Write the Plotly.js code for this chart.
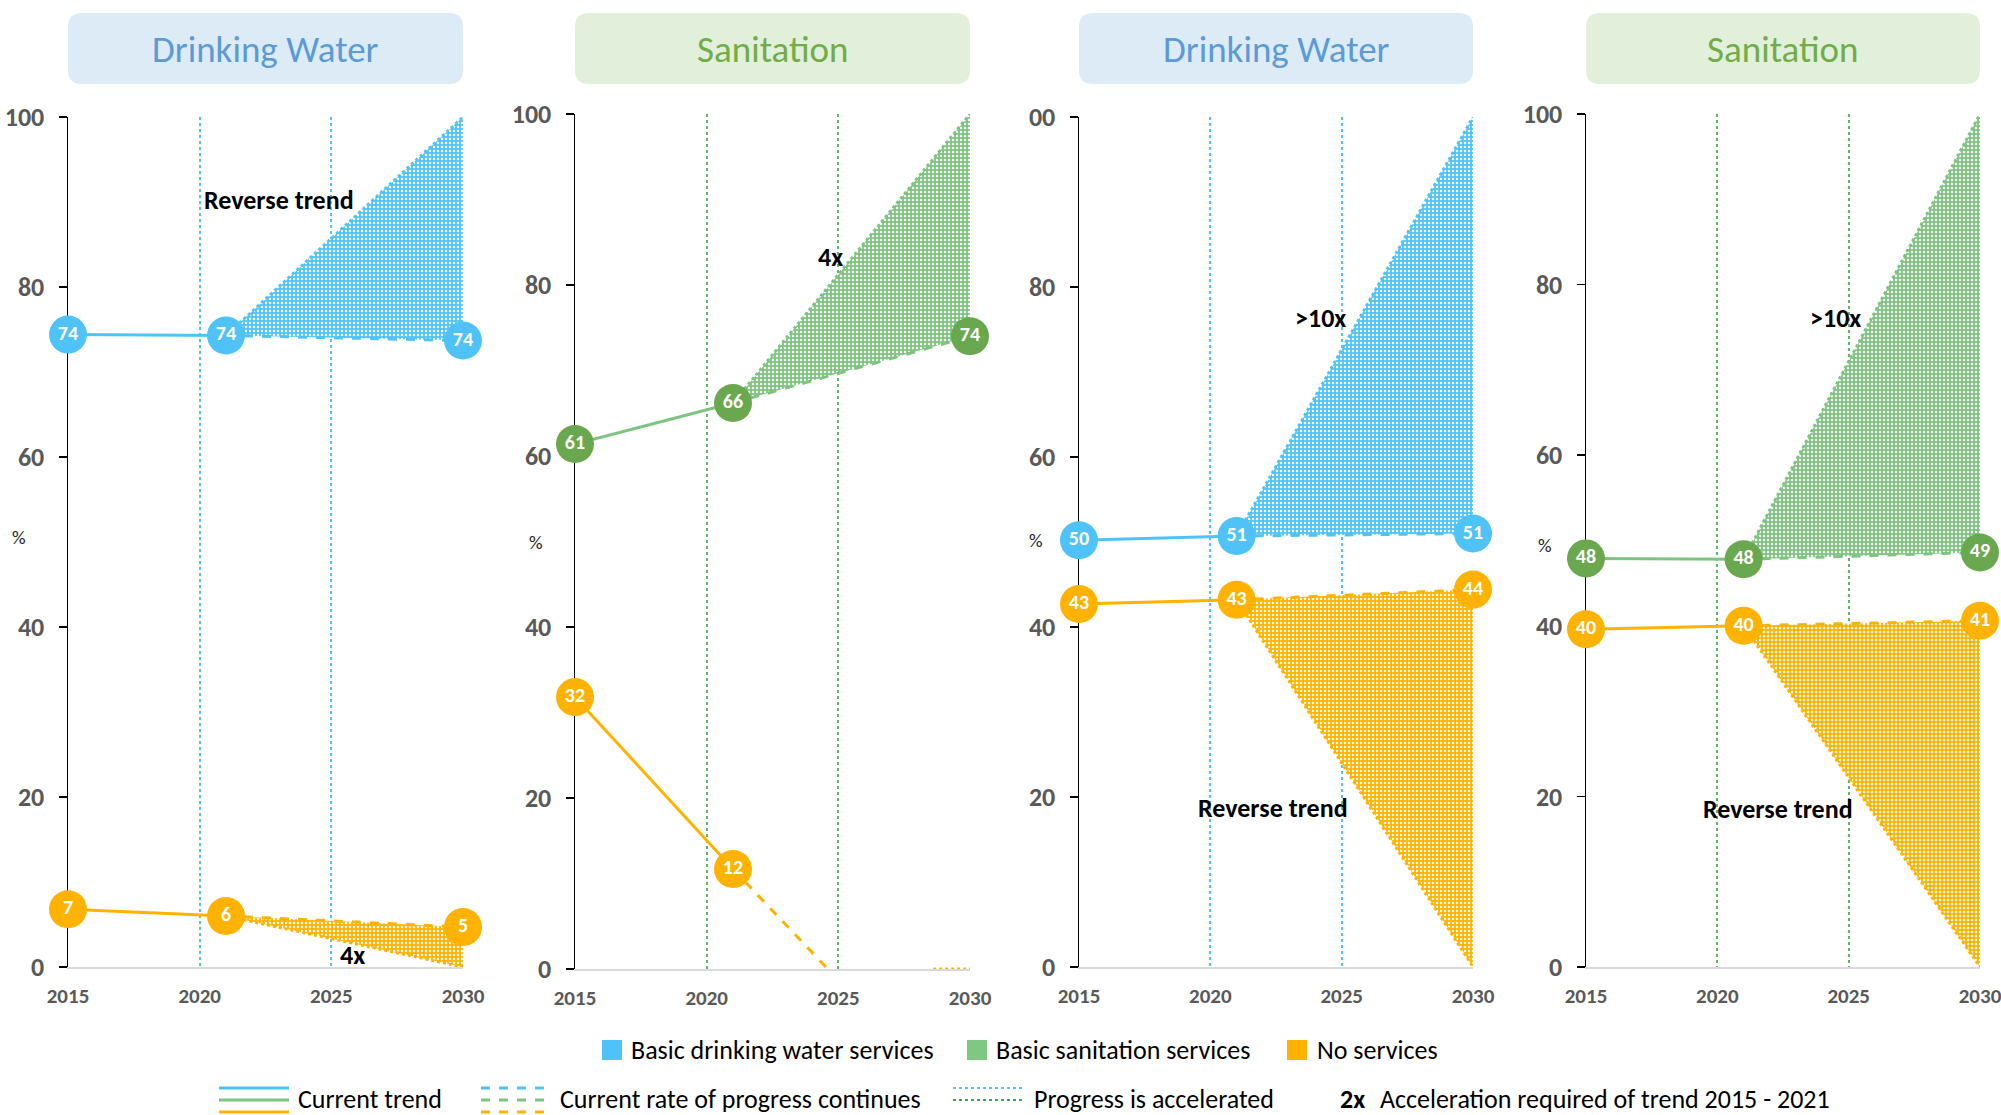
<!DOCTYPE html>
<html><head><meta charset="utf-8">
<script src="https://cdn.plot.ly/plotly-3.0.1.min.js"></script>
<style>html,body{margin:0;padding:0;background:#fff}#chart{width:2001px;height:1115px}</style>
</head><body><div id="chart"></div>
<script>
// ---------------- DATA ----------------
const panelTitles = ['Drinking Water', 'Sanitation', 'Drinking Water', 'Sanitation'];
const xTickYears = [2015, 2020, 2025, 2030];
const yTickVals = [0, 20, 40, 60, 80, 100];
const yTickText = ['0', '20', '40', '60', '80', '100'];
const yTickText3 = ['0', '20', '40', '60', '80', '00'];
const trendYears = [2015, 2021];
const projYears = [2021, 2030];
const markerYears = [2015, 2021, 2030];

// Panel 1 – drinking water
const p1ServiceTrend = [74.4, 74.3];
const p1ServiceCont = [74.3, 73.7];
const p1ServiceAccel = [74.3, 100];
const p1NoneTrend = [6.8, 6.0];
const p1NoneCont = [6.0, 4.7];
const p1NoneAccel = [6.0, 0];

// Panel 2 – sanitation
const p2ServiceTrend = [61.4, 66.2];
const p2ServiceCont = [66.2, 74.0];
const p2ServiceAccel = [66.2, 100];
const p2NoneTrend = [31.8, 11.7];
const p2NoneContYears = [2021, 2024.6];
const p2NoneCont = [11.7, 0];
const p2NoneAccelYears = [2028.6, 2030];
const p2NoneAccel = [0, 0];

// Panel 3 – drinking water
const p3ServiceTrend = [50.2, 50.7];
const p3ServiceCont = [50.7, 51.0];
const p3ServiceAccel = [50.7, 100];
const p3NoneTrend = [42.7, 43.2];
const p3NoneCont = [43.2, 44.4];
const p3NoneAccel = [43.2, 0];

// Panel 4 – sanitation
const p4ServiceTrend = [47.9, 47.8];
const p4ServiceCont = [47.8, 48.6];
const p4ServiceAccel = [47.8, 100];
const p4NoneTrend = [39.6, 40.0];
const p4NoneCont = [40.0, 40.6];
const p4NoneAccel = [40.0, 0];

// Annotations
const p1Notes = [{t: 'Reverse trend', x: 2023.0, y: 90.2}, {t: '4x', x: 2025.8, y: 1.4}];
const p2Notes = [{t: '4x', x: 2024.7, y: 83.3}];
const p3Notes = [{t: '>10x', x: 2024.2, y: 76.4}, {t: 'Reverse trend', x: 2022.4, y: 18.7}];
const p4Notes = [{t: '>10x', x: 2024.5, y: 76.1}, {t: 'Reverse trend', x: 2022.3, y: 18.5}];

const legendAreas = ['Basic drinking water services', 'Basic sanitation services', 'No services'];
const legendLines = ['Current trend', 'Current rate of progress continues', 'Progress is accelerated'];
const legendAccel = ['2x', 'Acceleration required of trend 2015 - 2021'];

// ---------------- STYLE ----------------
const W = 2001, H = 1115;
const FONT = 'Carlito, Lato, sans-serif';
const BLUE = '#4FC3F7', BLUE_MK = '#4FC3F7';
const GREEN = '#7CC47F', GREEN_MK = '#6AA84F';
const ORANGE = '#FFB300';
const X = p => p / W, Y = p => 1 - p / H;

const panels = [
  {px: [68, 463], py: [117, 967], kind: 'water', ticktext: yTickText, pct: [19, 537]},
  {px: [575, 970], py: [114, 969], kind: 'san', ticktext: yTickText, pct: [536, 542]},
  {px: [1079, 1473], py: [117, 967], kind: 'water', ticktext: yTickText3, pct: [1036, 540]},
  {px: [1586, 1980], py: [114, 967], kind: 'san', ticktext: yTickText, pct: [1545, 546]}
];

const traces = [];
const markerTraces = [];
function pat(c) {
  return {shape: '.', bgcolor: c, fgcolor: 'white', size: 4, solidity: 0.3, fillmode: 'replace'};
}
function addSeries(i, color, mkColor, trendY, contX, contY, accX, accY, mkX, mkY, fill) {
  const xa = i === 0 ? 'x' : 'x' + (i + 1), ya = i === 0 ? 'y' : 'y' + (i + 1);
  traces.push({x: trendYears, y: trendY, xaxis: xa, yaxis: ya, mode: 'lines',
    line: {color: color, width: 3}, hoverinfo: 'skip'});
  traces.push({x: contX, y: contY, xaxis: xa, yaxis: ya, mode: 'lines',
    line: {color: color, width: 3, dash: 'dash'}, hoverinfo: 'skip'});
  const acc = {x: accX, y: accY, xaxis: xa, yaxis: ya, mode: 'lines',
    line: {color: color, width: 3, dash: 'dot'}, hoverinfo: 'skip'};
  if (fill) { acc.fill = 'tonexty'; acc.fillcolor = color; acc.fillpattern = pat(color); }
  traces.push(acc);
  markerTraces.push({x: mkX, y: mkY, xaxis: xa, yaxis: ya, mode: 'markers+text',
    marker: {size: 38, color: mkColor}, text: mkY.map(v => Math.round(v).toString()),
    textposition: 'middle center', cliponaxis: false,
    textfont: {family: FONT, size: 20, color: 'white', weight: 'bold'}, hoverinfo: 'skip'});
}
const mk = (t, c) => [t[0], t[1], c[c.length - 1]];

addSeries(0, BLUE, BLUE_MK, p1ServiceTrend, projYears, p1ServiceCont, projYears, p1ServiceAccel, markerYears, mk(p1ServiceTrend, p1ServiceCont), true);
addSeries(0, ORANGE, ORANGE, p1NoneTrend, projYears, p1NoneCont, projYears, p1NoneAccel, markerYears, mk(p1NoneTrend, p1NoneCont), true);
addSeries(1, GREEN, GREEN_MK, p2ServiceTrend, projYears, p2ServiceCont, projYears, p2ServiceAccel, markerYears, mk(p2ServiceTrend, p2ServiceCont), true);
addSeries(1, ORANGE, ORANGE, p2NoneTrend, p2NoneContYears, p2NoneCont, p2NoneAccelYears, p2NoneAccel, trendYears, p2NoneTrend, false);
addSeries(2, BLUE, BLUE_MK, p3ServiceTrend, projYears, p3ServiceCont, projYears, p3ServiceAccel, markerYears, mk(p3ServiceTrend, p3ServiceCont), true);
addSeries(2, ORANGE, ORANGE, p3NoneTrend, projYears, p3NoneCont, projYears, p3NoneAccel, markerYears, mk(p3NoneTrend, p3NoneCont), true);
addSeries(3, GREEN, GREEN_MK, p4ServiceTrend, projYears, p4ServiceCont, projYears, p4ServiceAccel, markerYears, mk(p4ServiceTrend, p4ServiceCont), true);
addSeries(3, ORANGE, ORANGE, p4NoneTrend, projYears, p4NoneCont, projYears, p4NoneAccel, markerYears, mk(p4NoneTrend, p4NoneCont), true);

const layout = {
  width: W, height: H, margin: {l: 0, r: 0, t: 0, b: 0},
  paper_bgcolor: '#fff', plot_bgcolor: '#fff', showlegend: false,
  shapes: [], annotations: []
};

function rr(x0, y0, x1, y1, r) {
  const f = (x, y) => X(x).toFixed(5) + ',' + Y(y).toFixed(5);
  return 'M' + f(x0 + r, y0) + ' L' + f(x1 - r, y0) + ' Q' + f(x1, y0) + ' ' + f(x1, y0 + r) +
    ' L' + f(x1, y1 - r) + ' Q' + f(x1, y1) + ' ' + f(x1 - r, y1) +
    ' L' + f(x0 + r, y1) + ' Q' + f(x0, y1) + ' ' + f(x0, y1 - r) +
    ' L' + f(x0, y0 + r) + ' Q' + f(x0, y0) + ' ' + f(x0 + r, y0) + ' Z';
}

const notes = [p1Notes, p2Notes, p3Notes, p4Notes];
panels.forEach((p, i) => {
  const sfx = i === 0 ? '' : (i + 1);
  const water = p.kind === 'water';
  layout['xaxis' + sfx] = {
    domain: [X(p.px[0]), X(p.px[1])], range: [2015, 2030], anchor: 'y' + sfx,
    showline: true, linecolor: '#D9D9D9', linewidth: 2, ticks: '', layer: 'below traces',
    tickvals: xTickYears, tickfont: {family: FONT, size: 21, color: '#595959', weight: 'bold'},
    showgrid: true, gridcolor: water ? BLUE : '#5DB85F', griddash: 'dot', gridwidth: 2,
    zeroline: false, ticklabelstandoff: 9, ticklabeloverflow: 'allow', fixedrange: true
  };
  layout['yaxis' + sfx] = {
    domain: [Y(p.py[1]), Y(p.py[0])], range: [0, 100], anchor: 'x' + sfx,
    showline: true, linecolor: '#000', linewidth: 1.5, ticks: 'outside', ticklen: 8,
    tickwidth: 1.5, tickcolor: '#000', tickvals: yTickVals, ticktext: p.ticktext, layer: 'below traces',
    tickfont: {family: FONT, size: 26, color: '#595959', weight: 'bold'},
    showgrid: false, zeroline: false, ticklabelstandoff: 9, ticklabeloverflow: 'allow', fixedrange: true
  };
  // title box
  layout.shapes.push({type: 'path', xref: 'paper', yref: 'paper', layer: 'below',
    path: rr(p.px[0], 13, p.px[1], 84, 14), fillcolor: water ? '#DDEBF7' : '#E2EFDA', line: {width: 0}});
  layout.annotations.push({xref: 'paper', yref: 'paper', x: X((p.px[0] + p.px[1]) / 2), y: Y(49),
    xanchor: 'center', yanchor: 'middle', showarrow: false, text: panelTitles[i],
    font: {family: FONT, size: 37, color: water ? '#5B9BD5' : '#70AD47'}});
  // % label
  layout.annotations.push({xref: 'paper', yref: 'paper', x: X(p.pct[0]), y: Y(p.pct[1]),
    xanchor: 'center', yanchor: 'middle', showarrow: false, text: '%',
    font: {family: FONT, size: 19, color: '#262626'}});
  notes[i].forEach(n => layout.annotations.push({xref: 'x' + sfx, yref: 'y' + sfx, x: n.x, y: n.y,
    xanchor: 'center', yanchor: 'middle', showarrow: false, text: '<b>' + n.t + '</b>',
    font: {family: FONT, size: 26, color: '#000'}}));
});

// ---- legend (drawn in paper space) ----
const legSq = [[602, BLUE, 629], [967, '#7FC882', 994], [1287, ORANGE, 1315]];
legSq.forEach((s, k) => {
  layout.shapes.push({type: 'rect', xref: 'paper', yref: 'paper', x0: X(s[0]), x1: X(s[0] + 20),
    y0: Y(1060), y1: Y(1040), fillcolor: s[1], line: {width: 0}});
  layout.annotations.push({xref: 'paper', yref: 'paper', x: X(s[2]), y: Y(1050), xanchor: 'left',
    yanchor: 'middle', showarrow: false, text: legendAreas[k], font: {family: FONT, size: 26, color: '#000'}});
});
const lineRows = [[1088, BLUE], [1100, GREEN], [1112, ORANGE]];
lineRows.forEach(r => {
  layout.shapes.push({type: 'line', xref: 'paper', yref: 'paper', x0: X(219), x1: X(289), y0: Y(r[0]), y1: Y(r[0]),
    line: {color: r[1], width: 3}});
  layout.shapes.push({type: 'line', xref: 'paper', yref: 'paper', x0: X(481), x1: X(547), y0: Y(r[0]), y1: Y(r[0]),
    line: {color: r[1], width: 3, dash: 'dash'}});
});
[[1088, BLUE], [1100, '#3FA34D']].forEach(r => {
  layout.shapes.push({type: 'line', xref: 'paper', yref: 'paper', x0: X(953), x1: X(1024), y0: Y(r[0]), y1: Y(r[0]),
    line: {color: r[1], width: 2, dash: 'dot'}});
});
[[296, legendLines[0]], [558, legendLines[1]], [1032, legendLines[2]], [1378, legendAccel[1]]].forEach(a => {
  layout.annotations.push({xref: 'paper', yref: 'paper', x: X(a[0]), y: Y(1099), xanchor: 'left',
    yanchor: 'middle', showarrow: false, text: a[1], font: {family: FONT, size: 26, color: '#000'}});
});
layout.annotations.push({xref: 'paper', yref: 'paper', x: X(1338), y: Y(1099), xanchor: 'left',
  yanchor: 'middle', showarrow: false, text: '<b>' + legendAccel[0] + '</b>', font: {family: FONT, size: 26, color: '#000'}});

Plotly.newPlot('chart', traces.concat(markerTraces), layout, {displayModeBar: false, staticPlot: true});
</script></body></html>
